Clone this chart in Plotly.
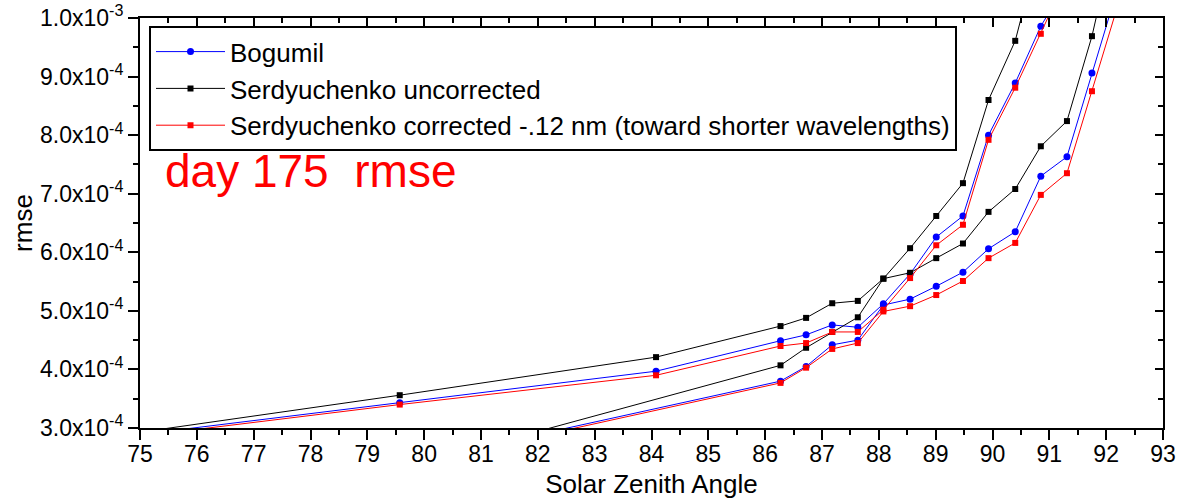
import plotly.graph_objects as go

# Solar zenith angles (degrees) for each branch
sza_up = [73.5, 79.57, 84.08, 86.27, 86.72, 87.18, 87.63, 88.08, 88.55, 89.01, 89.48, 89.93, 90.40, 90.85, 91.31]
sza_lo = [79.57, 86.27, 86.72, 87.18, 87.63, 88.08, 88.55, 89.01, 89.48, 89.93, 90.40, 90.85, 91.31, 91.75, 92.20]

# Bogumil
bog_up = [2.71e-4, 3.43e-4, 3.97e-4, 4.49e-4, 4.59e-4, 4.76e-4, 4.72e-4, 5.12e-4, 5.63e-4, 6.26e-4, 6.62e-4, 8.00e-4, 8.89e-4, 9.86e-4, 1.06e-3]
bog_lo = [2.37e-4, 3.80e-4, 4.05e-4, 4.42e-4, 4.50e-4, 5.10e-4, 5.20e-4, 5.42e-4, 5.66e-4, 6.06e-4, 6.35e-4, 7.30e-4, 7.63e-4, 9.06e-4, 1.05e-3]

# Serdyuchenko uncorrected
unc_up = [2.72e-4, 3.56e-4, 4.21e-4, 4.74e-4, 4.88e-4, 5.13e-4, 5.17e-4, 5.55e-4, 6.07e-4, 6.62e-4, 7.18e-4, 8.60e-4, 9.61e-4, 1.13e-3, 1.25e-3]
unc_lo = [2.30e-4, 4.07e-4, 4.37e-4, 4.64e-4, 4.89e-4, 5.55e-4, 5.65e-4, 5.90e-4, 6.15e-4, 6.69e-4, 7.08e-4, 7.81e-4, 8.24e-4, 9.69e-4, 1.16e-3]

# Serdyuchenko corrected -.12 nm
cor_up = [2.68e-4, 3.40e-4, 3.90e-4, 4.40e-4, 4.45e-4, 4.64e-4, 4.64e-4, 5.02e-4, 5.56e-4, 6.12e-4, 6.47e-4, 7.92e-4, 8.81e-4, 9.73e-4, 1.07e-3]
cor_lo = [2.34e-4, 3.77e-4, 4.03e-4, 4.35e-4, 4.45e-4, 4.99e-4, 5.08e-4, 5.27e-4, 5.51e-4, 5.90e-4, 6.16e-4, 6.98e-4, 7.35e-4, 8.75e-4, 1.02e-3]

y_tickvals = [3e-4, 4e-4, 5e-4, 6e-4, 7e-4, 8e-4, 9e-4, 1e-3]
y_ticktext = ["3.0x10<sup>-4</sup>", "4.0x10<sup>-4</sup>", "5.0x10<sup>-4</sup>", "6.0x10<sup>-4</sup>",
              "7.0x10<sup>-4</sup>", "8.0x10<sup>-4</sup>", "9.0x10<sup>-4</sup>", "1.0x10<sup>-3</sup>"]
y_minor = [3.5e-4, 4.5e-4, 5.5e-4, 6.5e-4, 7.5e-4, 8.5e-4, 9.5e-4]

series = [
    ("Bogumil", bog_up, bog_lo, "#0000FF", "circle", 7),
    ("Serdyuchenko uncorrected", unc_up, unc_lo, "#000000", "square", 6),
    ("Serdyuchenko corrected -.12 nm (toward shorter wavelengths)", cor_up, cor_lo, "#FF0000", "square", 6),
]

FONT = "Arial, Liberation Sans, sans-serif"
fig = go.Figure()
for name, up, lo, col, sym, ms in series:
    xs = sza_up + [None] + sza_lo
    ys = up + [None] + lo
    fig.add_trace(go.Scatter(
        x=xs, y=ys, name=name, mode="lines+markers",
        line=dict(color=col, width=1),
        marker=dict(color=col, symbol=sym, size=ms),
        connectgaps=False,
    ))

axis_common = dict(showgrid=False, zeroline=False, linecolor="black", linewidth=2,
                   tickcolor="black", tickwidth=2, automargin=False)

fig.update_layout(
    template="none",
    width=1178, height=499,
    margin=dict(l=140, r=15, t=18, b=71),
    plot_bgcolor="white", paper_bgcolor="white",
    font=dict(family=FONT, color="black", size=23),
    xaxis=dict(range=[75, 93], dtick=1, tick0=75, ticks="outside", ticklen=10,
               minor=dict(dtick=0.5, ticks="outside", ticklen=5, tickwidth=2, tickcolor="black"),
               showline=True, mirror=False, ticklabelstandoff=-6,
               title=dict(text="Solar Zenith Angle", font=dict(size=26, family=FONT), standoff=14),
               tickfont=dict(size=23, family=FONT), **axis_common),
    yaxis=dict(range=[3e-4, 1e-3], tickvals=y_tickvals, ticktext=y_ticktext,
               ticks="outside", ticklen=10, ticklabeloverflow="allow",
               minor=dict(tickvals=y_minor, ticks="outside", ticklen=5, tickwidth=2, tickcolor="black"),
               showline=True,
               title=dict(text="rmse", font=dict(size=26, family=FONT), standoff=0),
               tickfont=dict(size=23, family=FONT), **axis_common),
    xaxis2=dict(range=[75, 93], overlaying="x", side="top", dtick=1, tick0=75,
                ticks="inside", ticklen=9, showticklabels=False, showline=True,
                minor=dict(dtick=0.5, ticks="inside", ticklen=5, tickwidth=2, tickcolor="black"),
                **axis_common),
    yaxis2=dict(range=[3e-4, 1e-3], overlaying="y", side="right", tickvals=y_tickvals,
                ticks="inside", ticklen=8, showticklabels=False, showline=True,
                minor=dict(tickvals=y_minor, ticks="inside", ticklen=5, tickwidth=2, tickcolor="black"),
                **axis_common),
    legend=dict(x=0.0088, y=0.980, xanchor="left", yanchor="top",
                bgcolor="white", bordercolor="black", borderwidth=2,
                font=dict(size=26, family=FONT), itemwidth=69, tracegroupgap=0),
    showlegend=True,
    annotations=[dict(text="day 175&nbsp; rmse", xref="paper", yref="paper",
                      x=0.0225, y=0.626, xanchor="left", yanchor="middle", showarrow=False,
                      font=dict(size=46, color="#FF0000", family=FONT))],
)

# invisible trace so overlay axes render
fig.add_trace(go.Scatter(x=[None], y=[None], xaxis="x2", yaxis="y2", showlegend=False, hoverinfo="skip"))

fig.write_html("out.html", config={"displayModeBar": False},
               post_script="document.body.style.margin='0px';")
